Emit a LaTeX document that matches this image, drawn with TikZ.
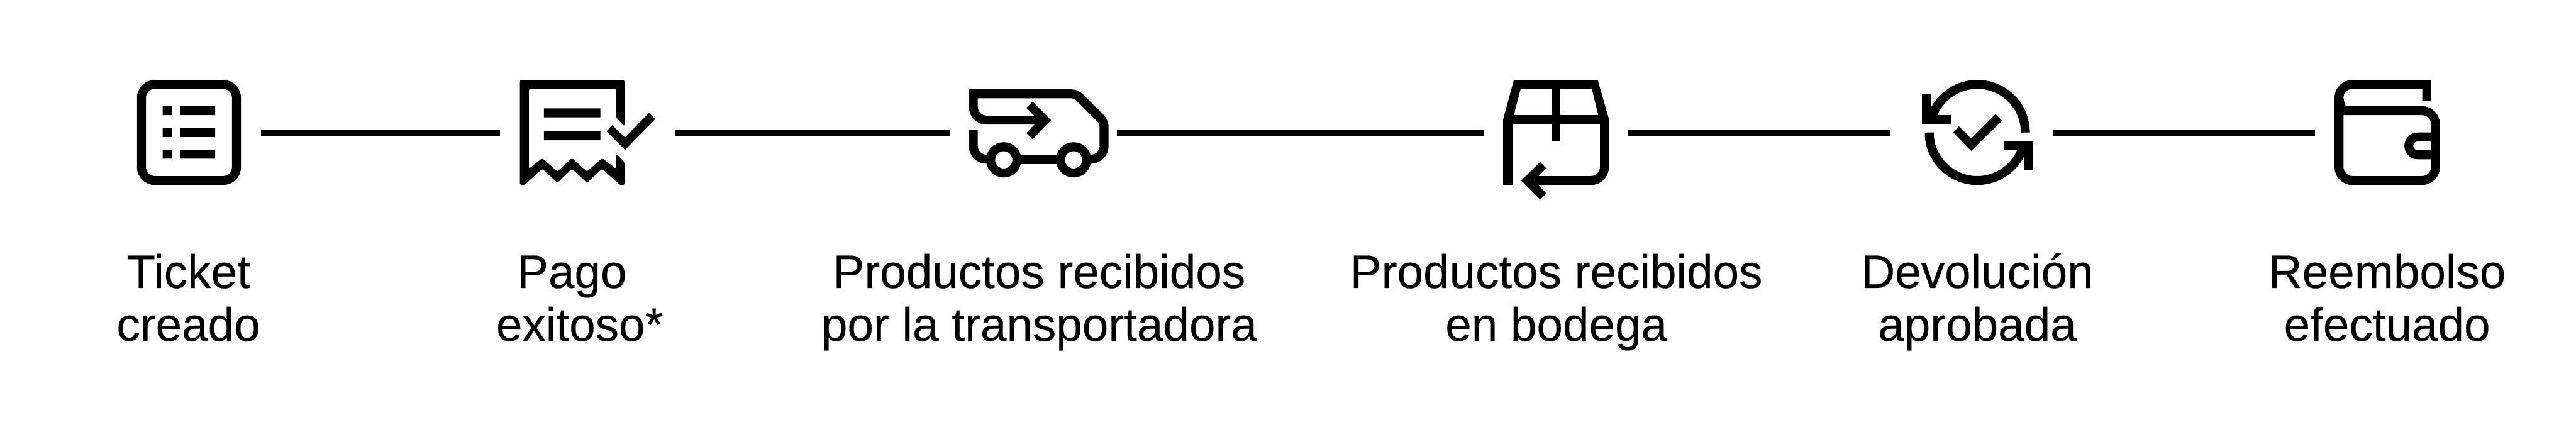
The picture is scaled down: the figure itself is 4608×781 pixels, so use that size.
\documentclass[tikz,border=0pt]{standalone}
\usepackage{fontspec}
\setmainfont[FakeBold=0.25]{Liberation Sans}
\tikzset{
  px/.style={x=0.5pt,y=-0.5pt},
  icon/.style={line width=8pt,line cap=butt,miter limit=10},
  conn/.style={line width=5.5pt},
  slot/.style={inner sep=0pt,outer sep=0pt,minimum height=94pt},
  lbl/.style={inner sep=0pt,outer sep=0pt,align=center,font=\fontsize{42}{47.25}\selectfont},
}
\begin{document}
\begin{tikzpicture}[px]
\useasboundingbox (0,0) rectangle (4608,781);
% invisible slots holding the icons (their sides are the connector ends)
\node[slot,minimum width=111pt] (ticket) at (356,237) {};
\node[slot,minimum width=157pt] (receipt) at (1051,237) {};
\node[slot,minimum width=149.5pt] (truck) at (1848.5,237) {};
\node[slot,minimum width=129.5pt] (box) at (2783.5,237) {};
\node[slot,minimum width=145.5pt] (cycle) at (3526.5,237) {};
\node[slot,minimum width=112pt] (wallet) at (4253,237) {};
% connectors
\draw[conn] (ticket.east) -- (receipt.west);
\draw[conn] (receipt.east) -- (truck.west);
\draw[conn] (truck.east) -- (box.west);
\draw[conn] (box.east) -- (cycle.west);
\draw[conn] (cycle.east) -- (wallet.west);
% ticket icon
\draw[icon,rounded corners=12pt] (253,151) rectangle (423,323);
\fill (291,190) rectangle (307,206) (322,190) rectangle (385,206);
\fill (291,229) rectangle (307,245) (322,229) rectangle (385,245);
\fill (291,268) rectangle (307,284) (322,268) rectangle (385,284);
% receipt icon
\fill[rounded corners=1.5pt] (930,143) -- (1117,143) -- (1117,226) -- (1102,210) -- (1102,159) -- (946,159) -- (946,302) -- (970,283) -- (997,307) -- (1023,283) -- (1050,307) -- (1077,283) -- (1102,302) -- (1102,275) -- (1117,290) -- (1117,331) -- (1109,331) -- (1077,302) -- (1050,327) -- (1023,302) -- (997,327) -- (970,302) -- (938,331) -- (930,331) -- cycle;
\fill (973,194) rectangle (1074,210) (973,235) rectangle (1074,251);
\fill (1118,268) -- (1085,235) -- (1095,224) -- (1118,246) -- (1161,202) -- (1172,213) -- cycle;
% truck icon
\draw[icon] (1860,215) [rounded corners=12pt] -- (1741,215) [sharp corners] -- (1741,168) -- (1918,168) [rounded corners=4pt] -- (1925,168) -- (1975,218) [rounded corners=12pt] -- (1975,285) -- (1945,285);
\draw[icon,rounded corners=12pt] (1741,233) -- (1741,285) -- (1775,285);
\fill (1847,182) -- (1880,215) -- (1847,249) -- (1836,238) -- (1858,215) -- (1836,193) -- cycle;
\draw[icon] (1820,286) -- (1895,286);
\draw[icon,fill=white] (1795.5,286) circle[radius=11.75pt];
\draw[icon,fill=white] (1920.5,286) circle[radius=11.75pt];
% box icon
\fill[even odd rule] (2708,143) -- (2858,143) -- (2878,213) -- (2878,222) -- (2689,222) -- (2689,213) -- cycle (2720,159) -- (2847.5,159) -- (2859,206) -- (2708,206) -- cycle;
\fill (2689,213) rectangle (2706,331);
\fill (2776,143) rectangle (2791,253);
\draw[icon,rounded corners=12pt] (2870,215) -- (2870,323) -- (2745,323);
\fill (2721,323) -- (2755,290) -- (2766,301) -- (2744,323) -- (2766,346) -- (2755,357) -- cycle;
% cycle icon
\draw[icon] (3623,237) arc[start angle=0,end angle=165,radius=43pt];
\draw[icon] (3451,237) arc[start angle=180,end angle=345,radius=43pt];
\draw[icon] (3446,169) -- (3446,214) -- (3491,214);
\draw[icon] (3584,261) -- (3629,261) -- (3629,305);
\fill (3526,270) -- (3494,237) -- (3504,226) -- (3526,248) -- (3569.5,204) -- (3581,216) -- cycle;
% wallet icon
\draw[icon] (4341,180) -- (4341,151) [rounded corners=12pt] -- (4184,151) -- (4184,323) -- (4356.5,323) -- (4356.5,198) -- (4208,198) [sharp corners] arc[start angle=270,end angle=180,radius=12pt];
\draw[icon] (4352,245) -- (4325,245) arc[start angle=90,end angle=270,radius=8pt] -- (4352,277);
% labels
\node[lbl] (l1) at (337,543.5) {\strut Ticket\\\strut creado};
\node[lbl] (l2) at (1037,543.5) {\strut Pago\hspace*{14pt}\\\strut exitoso*};
\node[lbl] (l3) at (1859,543.5) {\strut Productos recibidos\\\strut por la transportadora};
\node[lbl] (l4) at (2784,543.5) {\strut Productos recibidos\\\strut en bodega};
\node[lbl] (l5) at (3537,543.5) {\strut Devolución\\\strut aprobada};
\node[lbl] (l6) at (4270,543.5) {\strut Reembolso\\\strut efectuado};
\end{tikzpicture}
\end{document}
